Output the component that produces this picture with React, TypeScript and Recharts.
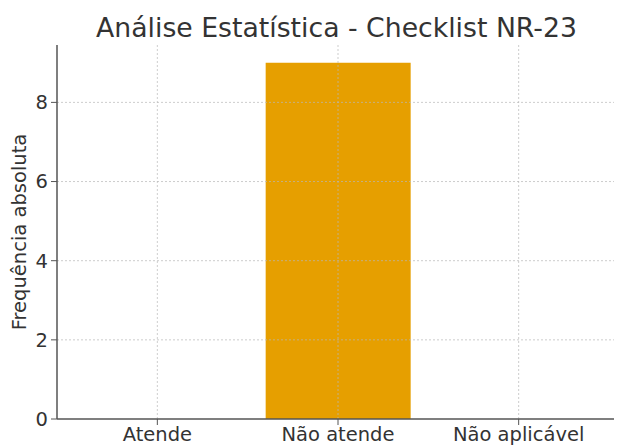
import { BarChart, Bar, XAxis, YAxis, ReferenceLine } from "recharts";

// ─── Data ─────────────────────────────────────────────────────────────────────

const categories = ["Atende", "Não atende", "Não aplicável"];
const counts = [0, 9, 0];
const yTicks = [0, 2, 4, 6, 8];
const gridY = [2, 4, 6, 8];

const data = categories.map((name, i) => ({ name, count: counts[i] }));

const FONT = "'DejaVu Sans', sans-serif";
const TEXT = "#333333";
const AXIS = "#555555";
const GRID = "#b8b8b8";

// ─── Component ────────────────────────────────────────────────────────────────

export default function App() {
  return (
    <div style={{ position: "absolute", left: 0, top: 0, width: 619, height: 445, background: "#fff", fontFamily: FONT }}>
      {/* Title */}
      <div
        style={{
          position: "absolute",
          top: 15,
          left: 58,
          width: 557,
          textAlign: "center",
          fontSize: 26.7,
          lineHeight: "26.5px",
          color: TEXT,
        }}
      >
        Análise Estatística - Checklist NR-23
      </div>

      <BarChart
        width={619}
        height={445}
        data={data}
        margin={{ top: 45, right: 5, bottom: 0, left: 0 }}
        barSize={145}
      >
        <XAxis
          dataKey="name"
          height={26}
          padding={{ left: 10, right: 5 }}
          tick={{ fill: TEXT, fontSize: 19.5, fontFamily: FONT }}
          tickSize={6}
          tickMargin={2}
          axisLine={{ stroke: AXIS, strokeWidth: 1.5 }}
          tickLine={{ stroke: AXIS }}
        />
        <YAxis
          width={57}
          domain={[0, 9.45]}
          ticks={yTicks}
          allowDataOverflow
          tick={{ fill: TEXT, fontSize: 19.5, fontFamily: FONT }}
          tickSize={6}
          tickMargin={3}
          axisLine={{ stroke: AXIS, strokeWidth: 1.5 }}
          tickLine={{ stroke: AXIS }}
          label={{
            value: "Frequência absoluta",
            angle: -90,
            position: "insideLeft",
            offset: 19,
            style: { textAnchor: "middle", fill: TEXT, fontSize: 19.5, fontFamily: FONT },
          }}
        />
        <Bar dataKey="count" fill="#E69F00" isAnimationActive={false} />
        {/* grid drawn over the bars, like the reference */}
        {gridY.map((v) => (
          <ReferenceLine key={`y${v}`} y={v} stroke={GRID} strokeOpacity={0.7} strokeDasharray="2 2" />
        ))}
        {categories.map((c) => (
          <ReferenceLine key={`x${c}`} x={c} stroke={GRID} strokeOpacity={0.7} strokeDasharray="2 2" />
        ))}
      </BarChart>
    </div>
  );
}
